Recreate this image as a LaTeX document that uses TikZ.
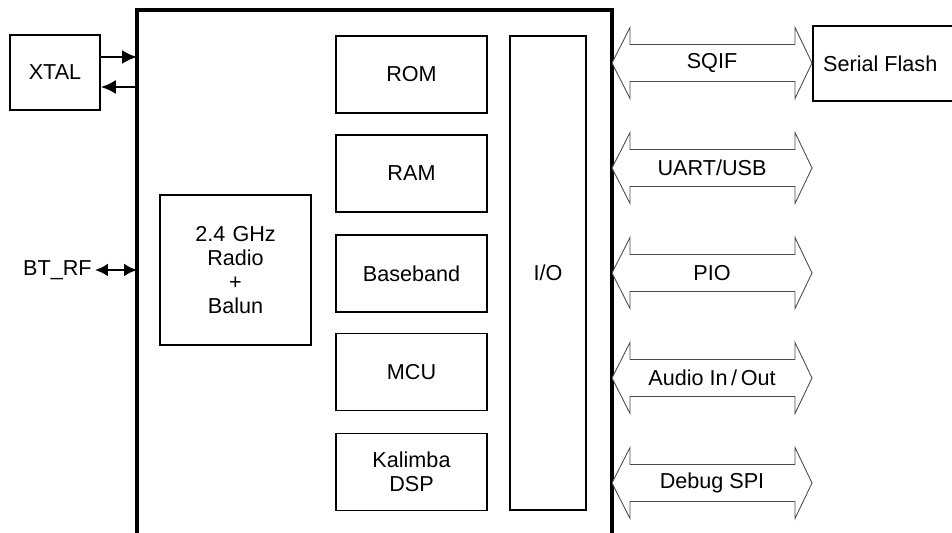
\documentclass[tikz,border=0pt]{standalone}
\usepackage{fontspec}
\setmainfont{Liberation Sans}
\usetikzlibrary{arrows.meta}

\begin{document}
\begin{tikzpicture}[x=0.02cm, y=-0.02cm]
\tikzset{blk/.style = {draw=black, line width=0.9pt, fill=white, align=center,
    font=\fontsize{12.3}{13.6}\selectfont, minimum width=3.02cm, minimum height=1.54cm, inner sep=0pt}}
\tikzset{lbl/.style = {font=\fontsize{12.3}{13.6}\selectfont}}
\tikzset{bus/.style = {draw=black!70, line width=0.5pt, fill=white}}
\tikzset{sig/.style = {line width=1.3pt, -{Latex[length=3mm, width=2.8mm]}}}
\useasboundingbox (0,0) rectangle (952,533);

\draw[line width=1.8pt] (137,560) -- (137,10) -- (612,10) -- (612,560);

    \node[blk] (rom) at (411.5,74.5) {ROM};
    \node[blk] (ram) at (411.5,173.5) {RAM};
    \node[blk] (bb) at (411.5,273.5) {Baseband};
    \node[blk] (mcu) at (411.5,372) {MCU};
    \node[blk] (dsp) at (411.5,472) {Kalimba\\DSP};
    \node[blk, minimum width=1.52cm, minimum height=9.48cm] (io) at (548,273) {I/O};
    \node[blk, minimum height=3cm] (radio) at (235.5,270) {2.4\,\,GHz\\Radio\\+\\Balun};
    \node[blk, minimum width=1.8cm, minimum height=1.5cm] (xtal) at (55,72.5) {XTAL};
    \node[blk, anchor=west, minimum width=2.9cm, minimum height=1.5cm] (flash) at (812,63.5) {\hspace*{-0.2cm}Serial Flash};

    \coordinate (xin) at (137,57);
    \coordinate (xout) at (137,87);
    \draw[sig] (xtal.east |- xin) -- (xin);
    \draw[sig] (xout) -- (xtal.east |- xout);

    \node[lbl, anchor=east, inner sep=0pt] (btrf) at (92,270) {BT\_RF};
    \coordinate (rfin) at (137,270);
    \draw[line width=1.3pt, {Latex[length=2.6mm, width=2.6mm]}-{Latex[length=2.6mm, width=2.6mm]}] (btrf.east) ++(3,0) -- (rfin);

\draw[bus] (612,63) -- (630,27.5) -- (630,44.5) -- (795,44.5) -- (795,27.5) -- (812,63) -- (795,98.5) -- (795,81.5) -- (630,81.5) -- (630,98.5) -- cycle;
\draw[bus] (612,168) -- (630,132.5) -- (630,149.5) -- (795,149.5) -- (795,132.5) -- (812,168) -- (795,203.5) -- (795,186.5) -- (630,186.5) -- (630,203.5) -- cycle;
\draw[bus] (612,273) -- (630,237.5) -- (630,254.5) -- (795,254.5) -- (795,237.5) -- (812,273) -- (795,308.5) -- (795,291.5) -- (630,291.5) -- (630,308.5) -- cycle;
\draw[bus] (612,378) -- (630,342.5) -- (630,359.5) -- (795,359.5) -- (795,342.5) -- (812,378) -- (795,413.5) -- (795,396.5) -- (630,396.5) -- (630,413.5) -- cycle;
\draw[bus] (612,483) -- (630,447.5) -- (630,464.5) -- (795,464.5) -- (795,447.5) -- (812,483) -- (795,518.5) -- (795,501.5) -- (630,501.5) -- (630,518.5) -- cycle;

    \node[lbl] (sqif) at (712,63) {SQIF};
    \node[lbl] (uart) at (712,168) {UART/USB};
    \node[lbl] (pio) at (712,273) {PIO};
    \node[lbl] (audio) at (712,378) {Audio In\,/\,Out};
    \node[lbl] (dbg) at (712,483) {Debug SPI};
\end{tikzpicture}
\end{document}
